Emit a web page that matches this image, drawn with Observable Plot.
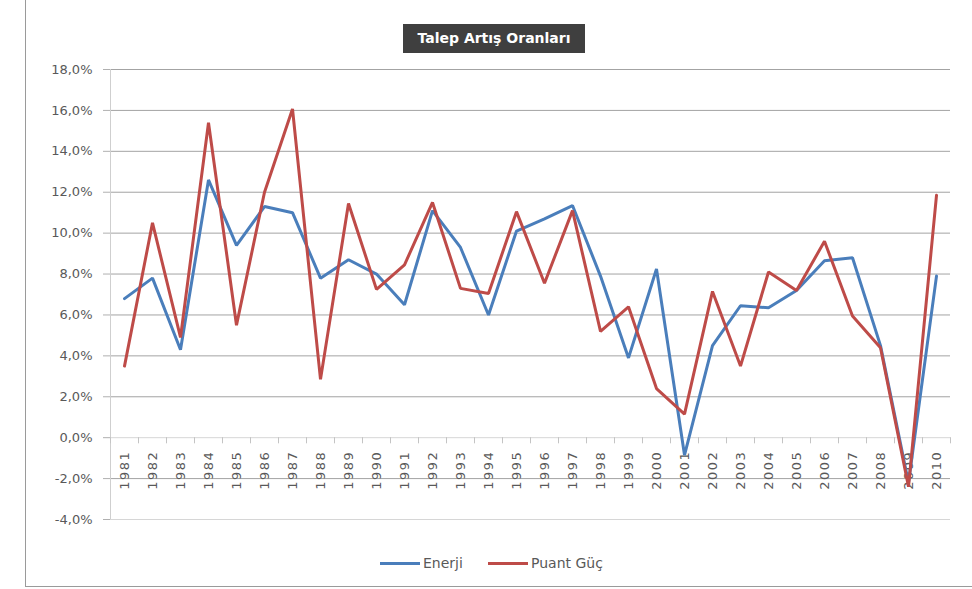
<!DOCTYPE html>
<html>
<head>
<meta charset="utf-8">
<script src="https://cdn.jsdelivr.net/npm/d3@7"></script>
<script src="https://cdn.jsdelivr.net/npm/@observablehq/plot@0.6"></script>
<style>
  html, body { margin: 0; padding: 0; background: #fff; }
  #wrap { position: relative; width: 972px; height: 589px; overflow: hidden; font-family: "DejaVu Sans", sans-serif; }
  #frame { position: absolute; left: 25px; top: 0; width: 947px; height: 587px; border-left: 1px solid #9a9a9a; border-bottom: 1px solid #9a9a9a; box-sizing: border-box; }
  #chart { position: absolute; left: 0; top: 0; }
  #title { position: absolute; left: 403px; top: 24px; width: 182px; height: 29px; background: #3f3f3f; color: #fff; font-weight: bold; font-size: 14px; line-height: 29px; text-align: center; white-space: nowrap; }
  #legend { position: absolute; left: 0; top: 553px; width: 972px; height: 20px; }
  .item { position: absolute; top: 0; height: 20px; line-height: 20px; font-size: 14px; color: #595959; white-space: nowrap; }
  .sw { display: inline-block; width: 40px; height: 3px; vertical-align: middle; margin-right: 3px; position: relative; top: -1px; }
  #chart g[aria-label="text"] text { letter-spacing: 1.5px; }
</style>
</head>
<body>
<div id="wrap">
  <div id="frame"></div>
  <div id="chart"></div>
  <div id="title">Talep Artış Oranları</div>
  <div id="legend"></div>
</div>
<script>
const years = [1981, 1982, 1983, 1984, 1985, 1986, 1987, 1988, 1989, 1990,
               1991, 1992, 1993, 1994, 1995, 1996, 1997, 1998, 1999, 2000,
               2001, 2002, 2003, 2004, 2005, 2006, 2007, 2008, 2009, 2010];
const enerji = [6.8, 7.8, 4.3, 12.6, 9.4, 11.3, 11.0, 7.8, 8.7, 8.0,
                6.5, 11.1, 9.3, 6.0, 10.1, 10.7, 11.35, 7.9, 3.9, 8.25,
                -0.85, 4.5, 6.45, 6.35, 7.2, 8.65, 8.8, 4.5, -2.2, 7.9];
const puant = [3.5, 10.5, 4.9, 15.4, 5.5, 12.0, 16.07, 2.85, 11.45, 7.25,
               8.45, 11.5, 7.3, 7.05, 11.05, 7.55, 11.1, 5.2, 6.4, 2.4,
               1.15, 7.15, 3.5, 8.1, 7.2, 9.6, 5.95, 4.4, -2.4, 11.85];
const seriesNames = ["Enerji", "Puant Güç"];
const seriesColors = ["#4a7ebb", "#be4b48"];
const yTicks = [-4, -2, 0, 2, 4, 6, 8, 10, 12, 14, 16, 18];

const data = [];
years.forEach((yr, i) => {
  data.push({year: yr, value: enerji[i], series: seriesNames[0]});
});
years.forEach((yr, i) => {
  data.push({year: yr, value: puant[i], series: seriesNames[1]});
});
const xStart = years[0] - 0.5, xEnd = years[years.length - 1] + 0.5;
const bounds = years.map(y => y - 0.5).concat([xEnd]);
const fmt = d => d.toFixed(1).replace(".", ",") + "%";

const chart = Plot.plot({
  width: 972,
  height: 530,
  marginTop: 69,
  marginBottom: 11,
  marginLeft: 110,
  marginRight: 22,
  style: {fontFamily: "DejaVu Sans, sans-serif", fontSize: "13px", color: "#595959", background: "transparent", overflow: "visible"},
  x: {type: "linear", domain: [xStart, xEnd], axis: null},
  y: {domain: [-4, 18], axis: null},
  color: {domain: seriesNames, range: seriesColors},
  marks: [
    Plot.ruleY(yTicks, {stroke: d => (d === 0 || d === -4) ? "#d6d6d6" : "#a3a3a3", strokeWidth: 1}),
    Plot.axisY(yTicks, {label: null, tickSize: 7, tickPadding: 11, tickFormat: fmt, stroke: "#b0b0b0", fill: "#595959", fontSize: 13}),
    Plot.ruleX([xStart], {y1: -4, y2: 18, stroke: "#cfcfcf"}),
    Plot.ruleX(bounds, {y1: 0, y2: -0.3, stroke: "#c4c4c4"}),
    Plot.text(years, {x: d => d, y: 0, text: d => String(d), rotate: -90, textAnchor: "end", dy: 13, fontSize: 13, fill: "#595959"}),
    Plot.line(data, {x: "year", y: "value", stroke: "series", z: "series", strokeWidth: 3, strokeLinejoin: "miter"})
  ]
});
document.getElementById("chart").appendChild(chart);

const legend = document.getElementById("legend");
const lefts = [380, 488];
seriesNames.forEach((name, i) => {
  const it = document.createElement("div");
  it.className = "item";
  it.style.left = lefts[i] + "px";
  const sw = document.createElement("span");
  sw.className = "sw";
  sw.style.background = seriesColors[i];
  it.appendChild(sw);
  it.appendChild(document.createTextNode(name));
  legend.appendChild(it);
});
</script>
</body>
</html>
